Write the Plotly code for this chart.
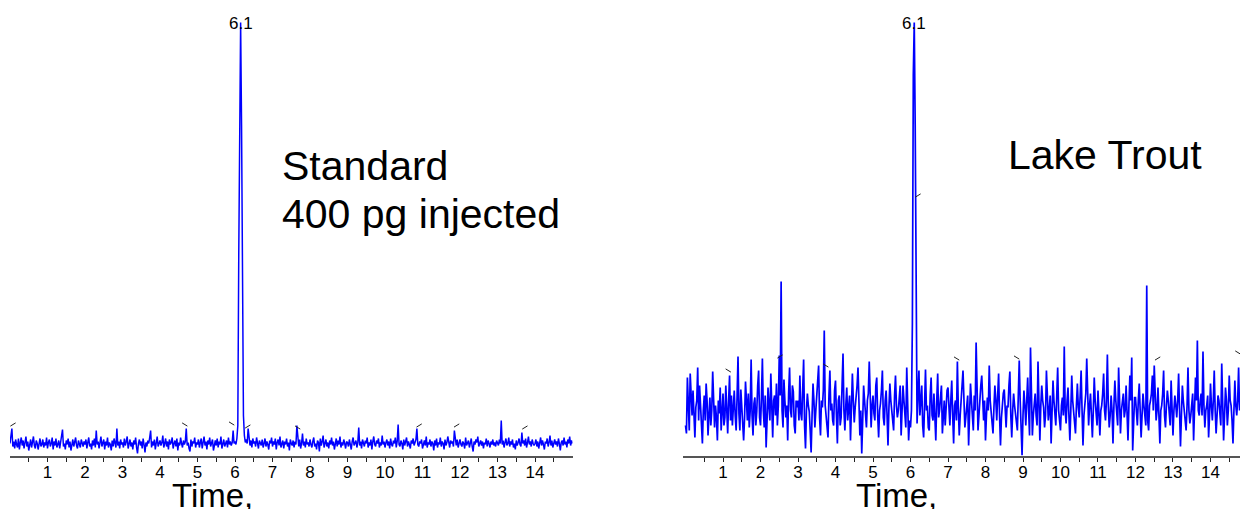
import plotly.graph_objects as go

# ---------------- data ----------------
TIME_STEP = 0.025  # min between samples

# Standard (400 pg injected) – detector response, sampled every 0.025 min from 0.000
standard_signal = [
    12, 18, 27, 9, 14, 7, 16, 11, 8, 17, 6, 13, 18, 10, 15, 7, 12, 19, 9, 14, 5, 11, 16, 8, 13, 19, 10, 7, 15, 12, 6, 14, 17, 9, 11, 16, 8, 13, 10, 18,
    7, 13, 16, 9, 12, 18, 6, 14, 10, 17, 8, 11, 15, 7, 13, 19, 26, 9, 12, 6, 15, 11, 17, 8, 14, 5, 12, 16, 9, 13, 18, 10, 7, 15, 11, 8, 16, 12, 9, 14,
    11, 16, 7, 13, 18, 9, 12, 6, 15, 10, 17, 8, 25, 11, 14, 7, 13, 19, 9, 12, 16, 6, 14, 10, 18, 8, 13, 11, 5, 15, 9, 17, 12, 8, 27, 10, 14, 7, 16, 11,
    13, 8, 17, 10, 14, 19, 7, 12, 16, 9, 13, 6, 15, 11, 18, 8, 2, 12, 16, 10, 14, 7, 17, 11, 3, 13, 9, 15, 12, 18, 25, 8, 14, 10, 16, 6, 13, 19, 9, 12,
    15, 10, 13, 20, 8, 12, 17, 9, 14, 6, 16, 11, 13, 18, 7, 12, 15, 9, 17, 5, 13, 10, 18, 12, 8, 15, 11, 14, 27, 10, 13, 7, 4, 16, 9, 14, 12, 18, 8, 13,
    11, 16, 8, 13, 17, 7, 12, 19, 10, 14, 6, 15, 11, 18, 9, 13, 16, 5, 12, 15, 10, 17, 8, 14, 11, 19, 7, 13, 16, 9, 12, 15, 8, 18, 11, 14, 10, 13, 25, 12,
    14, 11, 17, 30, 200, 380, 433, 330, 150, 40, 20, 13, 16, 12, 27, 19, 10, 15, 8, 17, 12, 14, 9, 18, 11, 7, 15, 13, 10, 16, 8, 12, 17, 9, 14, 11, 6, 15, 12, 18,
    9, 14, 11, 17, 6, 13, 16, 10, 19, 8, 12, 15, 7, 14, 11, 17, 9, 13, 5, 16, 12, 10, 15, 8, 14, 11, 30, 13, 9, 16, 7, 12, 22, 10, 14, 8, 17, 11, 13, 9,
    16, 11, 8, 14, 18, 9, 12, 6, 15, 13, 4, 17, 10, 14, 20, 8, 12, 16, 9, 13, 7, 15, 11, 18, 10, 14, 6, 12, 17, 9, 15, 11, 19, 8, 13, 10, 16, 12, 7, 14,
    13, 9, 16, 11, 6, 14, 18, 10, 12, 15, 8, 13, 28, 10, 14, 7, 16, 11, 9, 15, 12, 18, 8, 13, 10, 16, 6, 14, 19, 11, 9, 15, 12, 17, 8, 13, 10, 20, 11, 14,
    8, 13, 16, 10, 14, 7, 17, 11, 9, 15, 12, 18, 8, 14, 31, 11, 9, 15, 12, 6, 16, 10, 13, 18, 9, 14, 11, 7, 15, 12, 17, 10, 13, 16, 27, 11, 9, 14, 12, 16,
    7, 12, 15, 10, 19, 8, 13, 11, 16, 9, 14, 12, 5, 15, 10, 17, 8, 13, 11, 18, 9, 14, 12, 6, 16, 10, 13, 19, 11, 8, 15, 12, 14, 9, 25, 13, 10, 16, 8, 12,
    16, 11, 9, 14, 12, 7, 18, 10, 13, 15, 8, 12, 17, 9, 4, 14, 11, 16, 13, 19, 9, 12, 15, 10, 14, 7, 13, 11, 17, 9, 15, 12, 8, 14, 11, 16, 10, 13, 9, 15,
    13, 10, 16, 12, 35, 11, 15, 8, 13, 17, 10, 12, 18, 9, 14, 11, 16, 8, 12, 6, 15, 10, 13, 17, 11, 9, 23, 12, 15, 10, 17, 8, 13, 19, 11, 14, 9, 16, 12, 10,
    12, 16, 9, 14, 7, 13, 18, 10, 15, 11, 6, 14, 12, 17, 9, 13, 20, 10, 15, 8, 12, 16, 11, 14, 9, 17, 12, 5, 13, 15, 10, 18, 11, 14, 8, 16, 12, 19, 10, 15, 12,
]

# Lake Trout sample – detector response, sampled every 0.025 min from 0.000
trout_signal = [
    30, 22, 78, 45, 25, 82, 60, 40, 65, 30, 18, 48, 55, 88, 35, 70, 50, 28, 12, 45, 60, 35, 72, 55, 20, 40, 58, 30, 45, 84, 62, 28, 50, 38, 15, 55, 42, 68, 25, 48,
    62, 30, 38, 70, 45, 22, 55, 80, 35, 60, 30, 48, 65, 40, 25, 58, 99, 42, 25, 66, 50, 42, 15, 38, 74, 55, 35, 62, 28, 45, 96, 40, 20, 52, 58, 30, 44, 70, 85, 38,
    30, 58, 97, 45, 28, 60, 8, 35, 68, 50, 35, 82, 40, 18, 55, 60, 40, 72, 30, 50, 100, 60, 174, 45, 28, 76, 55, 38, 50, 15, 62, 88, 45, 38, 70, 64, 30, 22, 55, 48,
    55, 35, 80, 42, 35, 60, 96, 30, 7, 45, 62, 50, 44, 25, 3, 40, 72, 55, 28, 45, 58, 70, 90, 38, 20, 55, 48, 65, 125, 50, 40, 25, 18, 60, 85, 45, 52, 35, 30, 65,
    75, 40, 12, 55, 60, 30, 38, 70, 102, 45, 25, 50, 68, 35, 45, 60, 15, 40, 82, 55, 33, 48, 58, 70, 88, 40, 20, 45, 2, 35, 70, 55, 42, 28, 55, 62, 94, 40, 28, 50,
    60, 42, 35, 70, 78, 40, 18, 45, 52, 65, 85, 38, 30, 55, 65, 40, 10, 48, 72, 55, 45, 30, 25, 60, 80, 50, 38, 45, 58, 70, 20, 42, 70, 55, 42, 28, 88, 50, 15, 35,
    28, 45, 132, 380, 433, 330, 102, 32, 60, 85, 40, 55, 70, 30, 18, 50, 86, 45, 50, 28, 25, 60, 78, 40, 35, 62, 45, 15, 55, 82, 38, 45, 58, 70, 22, 40, 55, 30, 48, 65,
    68, 45, 30, 55, 75, 40, 12, 50, 55, 35, 94, 48, 20, 40, 62, 70, 85, 45, 28, 38, 50, 60, 10, 42, 72, 55, 38, 25, 60, 45, 113, 50, 25, 40, 60, 70, 80, 48, 35, 55,
    15, 40, 58, 45, 90, 55, 42, 30, 22, 48, 70, 55, 35, 60, 82, 40, 10, 38, 55, 62, 66, 45, 28, 50, 48, 70, 84, 40, 18, 45, 62, 50, 40, 30, 25, 60, 95, 55, 30, 0,
    40, 65, 50, 30, 55, 78, 45, 20, 108, 50, 20, 40, 55, 62, 40, 30, 94, 45, 15, 50, 70, 55, 48, 28, 40, 85, 60, 35, 45, 60, 12, 40, 75, 55, 42, 30, 60, 88, 45, 35,
    25, 50, 58, 40, 109, 45, 32, 55, 68, 40, 15, 45, 80, 55, 45, 30, 22, 50, 72, 48, 38, 60, 85, 45, 10, 40, 55, 62, 97, 45, 30, 50, 62, 40, 18, 45, 78, 55, 40, 30,
    65, 40, 20, 45, 50, 62, 82, 45, 35, 55, 101, 50, 28, 40, 60, 45, 12, 50, 75, 55, 42, 30, 88, 50, 22, 45, 55, 62, 38, 45, 70, 40, 15, 50, 80, 55, 98, 5, 40, 58,
    58, 40, 30, 55, 72, 45, 18, 40, 62, 50, 40, 30, 170, 35, 25, 50, 55, 62, 80, 45, 90, 55, 35, 45, 68, 40, 12, 45, 50, 62, 85, 40, 28, 50, 65, 55, 42, 30, 75, 50,
    20, 45, 60, 50, 38, 55, 82, 45, 9, 40, 70, 55, 45, 30, 25, 50, 88, 45, 32, 40, 58, 62, 15, 45, 78, 55, 115, 45, 40, 55, 62, 40, 104, 50, 28, 45, 50, 60, 18, 40,
    72, 50, 35, 55, 85, 45, 22, 40, 60, 55, 45, 30, 92, 50, 15, 40, 68, 55, 30, 45, 80, 55, 50, 35, 12, 45, 75, 50, 40, 55, 88, 45,
]

# integration baseline markers: time, level, direction (+1 "/", -1 "\")
std_mark_t = [0.08, 4.66, 5.91, 6.34, 7.67, 10.91, 11.91, 13.73]
std_mark_v = [31, 31, 32, 29, 28, 30, 30, 28]
std_mark_d = [1, -1, -1, 1, -1, 1, 1, 1]

trout_mark_t = [1.14, 2.52, 3.74, 6.20, 7.23, 8.83, 12.59, 14.73]
trout_mark_v = [85, 99, 90, 260, 97, 98, 97, 103]
trout_mark_d = [-1, 1, -1, 1, -1, -1, 1, -1]

peak_label = "6.1"
peak_time_std = 6.15
peak_time_trout = 6.10
tick_values = list(range(1, 15))
tick_labels = [str(v) for v in tick_values]
x_title = "Time,"
std_text = ["Standard", "400 pg injected"]
trout_text = "Lake Trout"

# ---------------- figure ----------------
W, H = 1240, 509
FONT = "Arial, Liberation Sans, sans-serif"
BLUE = "#0000ff"

def times(values):
    return [round(i * TIME_STEP, 3) for i in range(len(values))]

def mark_segments(ts, vs, ds, dx=0.07, dy=1.6):
    xs, ys = [], []
    for t, v, d in zip(ts, vs, ds):
        xs += [t - dx, t + dx, None]
        ys += [v - d * dy, v + d * dy, None]
    return xs, ys

fig = go.Figure()
fig.add_trace(go.Scatter(x=times(standard_signal), y=standard_signal, mode="lines",
                         line=dict(color=BLUE, width=1.5), xaxis="x", yaxis="y",
                         showlegend=False, hoverinfo="skip"))
fig.add_trace(go.Scatter(x=times(trout_signal), y=trout_signal, mode="lines",
                         line=dict(color=BLUE, width=1.7), xaxis="x2", yaxis="y2",
                         showlegend=False, hoverinfo="skip"))
mx, my = mark_segments(std_mark_t, std_mark_v, std_mark_d)
fig.add_trace(go.Scatter(x=mx, y=my, mode="lines", line=dict(color="#222", width=1),
                         xaxis="x", yaxis="y", showlegend=False, hoverinfo="skip"))
mx, my = mark_segments(trout_mark_t, trout_mark_v, trout_mark_d)
fig.add_trace(go.Scatter(x=mx, y=my, mode="lines", line=dict(color="#222", width=1),
                         xaxis="x2", yaxis="y2", showlegend=False, hoverinfo="skip"))

def px(x):
    return x / W

def py(y):
    return 1 - y / H

axis_common = dict(
    showline=True, linecolor="#555", linewidth=2, showgrid=False, zeroline=False,
    ticks="outside", ticklen=4, tickwidth=1, tickcolor="#222",
    tickmode="array", tickvals=tick_values, ticktext=tick_labels,
    tickfont=dict(family=FONT, size=17, color="#000"),
    ticklabelstandoff=-4,
    minor=dict(tickmode="linear", tick0=0.5, dtick=1, ticks="outside",
               ticklen=4, tickwidth=1, tickcolor="#222"),
    fixedrange=True,
)
y_common = dict(visible=False, range=[0, 455.5], domain=[py(455.5), 1], fixedrange=True)

fig.update_layout(
    width=W, height=H, autosize=False,
    margin=dict(l=0, r=0, t=0, b=0),
    paper_bgcolor="white", plot_bgcolor="white",
    xaxis=dict(domain=[px(10), px(572.5)], range=[0, 15], anchor="y", **axis_common),
    yaxis=dict(anchor="x", **y_common),
    xaxis2=dict(domain=[px(683), 1.0], range=[-0.067, 14.787], anchor="y2", **axis_common),
    yaxis2=dict(anchor="x2", **y_common),
)

ann = []
ann.append(dict(text=peak_label, x=peak_time_std, xref="x", y=py(23), yref="paper",
                xanchor="center", yanchor="middle", showarrow=False,
                font=dict(family=FONT, size=17, color="#000")))
ann.append(dict(text=peak_label, x=peak_time_trout, xref="x2", y=py(23), yref="paper",
                xanchor="center", yanchor="middle", showarrow=False,
                font=dict(family=FONT, size=17, color="#000")))
ann.append(dict(text=std_text[0], x=px(280), xref="paper", y=py(165.5), yref="paper",
                xanchor="left", yanchor="middle", showarrow=False,
                font=dict(family=FONT, size=41, color="#000")))
ann.append(dict(text=std_text[1], x=px(280), xref="paper", y=py(214), yref="paper",
                xanchor="left", yanchor="middle", showarrow=False,
                font=dict(family=FONT, size=41, color="#000")))
ann.append(dict(text=trout_text, x=px(1006), xref="paper", y=py(155), yref="paper",
                xanchor="left", yanchor="middle", showarrow=False,
                font=dict(family=FONT, size=41, color="#000")))
ann.append(dict(text=x_title, x=px(212), xref="paper", y=py(495), yref="paper",
                xanchor="center", yanchor="middle", showarrow=False,
                font=dict(family=FONT, size=33, color="#000")))
ann.append(dict(text=x_title, x=px(896), xref="paper", y=py(495), yref="paper",
                xanchor="center", yanchor="middle", showarrow=False,
                font=dict(family=FONT, size=33, color="#000")))
fig.update_layout(annotations=ann)

fig.write_html("out.html", config=dict(displayModeBar=False),
               post_script="document.body.style.margin='0px';document.body.style.overflow='hidden';")
